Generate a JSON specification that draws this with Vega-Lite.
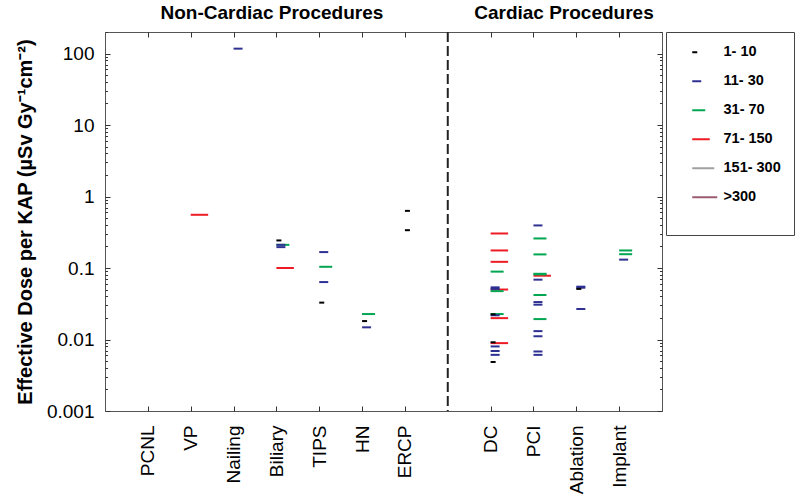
{
  "$schema": "https://vega.github.io/schema/vega-lite/v6.json",
  "width": 557,
  "height": 379,
  "autosize": {"type": "none"},
  "padding": {"left": 105, "top": 32, "right": 138, "bottom": 88},
  "config": {
    "font": "Liberation Sans",
    "view": {"stroke": "#555", "strokeWidth": 1},
    "axis": {"grid": false, "domain": false, "labelLimit": 0, "labelOverlap": false, "tickColor": "#333", "tickWidth": 1}
  },
  "data": {
    "values": [
      {"proc": "VP", "group": "71- 150", "value": 0.555},
      {"proc": "Biliary", "group": "71- 150", "value": 0.1},
      {"proc": "DC", "group": "71- 150", "value": 0.304},
      {"proc": "DC", "group": "71- 150", "value": 0.176},
      {"proc": "DC", "group": "71- 150", "value": 0.122},
      {"proc": "DC", "group": "71- 150", "value": 0.05},
      {"proc": "DC", "group": "71- 150", "value": 0.0199},
      {"proc": "DC", "group": "71- 150", "value": 0.0089},
      {"proc": "PCI", "group": "71- 150", "value": 0.078},
      {"proc": "Biliary", "group": "31- 70", "value": 0.211},
      {"proc": "TIPS", "group": "31- 70", "value": 0.104},
      {"proc": "HN", "group": "31- 70", "value": 0.0227},
      {"proc": "DC", "group": "31- 70", "value": 0.089},
      {"proc": "DC", "group": "31- 70", "value": 0.0475},
      {"proc": "DC", "group": "31- 70", "value": 0.0227},
      {"proc": "PCI", "group": "31- 70", "value": 0.259},
      {"proc": "PCI", "group": "31- 70", "value": 0.155},
      {"proc": "PCI", "group": "31- 70", "value": 0.083},
      {"proc": "PCI", "group": "31- 70", "value": 0.0815},
      {"proc": "PCI", "group": "31- 70", "value": 0.0419},
      {"proc": "PCI", "group": "31- 70", "value": 0.0193},
      {"proc": "Implant", "group": "31- 70", "value": 0.176},
      {"proc": "Implant", "group": "31- 70", "value": 0.156},
      {"proc": "Nailing", "group": "11- 30", "value": 117},
      {"proc": "Biliary", "group": "11- 30", "value": 0.211},
      {"proc": "Biliary", "group": "11- 30", "value": 0.196},
      {"proc": "TIPS", "group": "11- 30", "value": 0.167},
      {"proc": "TIPS", "group": "11- 30", "value": 0.0636},
      {"proc": "HN", "group": "11- 30", "value": 0.0148},
      {"proc": "DC", "group": "11- 30", "value": 0.0536},
      {"proc": "DC", "group": "11- 30", "value": 0.051},
      {"proc": "DC", "group": "11- 30", "value": 0.0218},
      {"proc": "DC", "group": "11- 30", "value": 0.008},
      {"proc": "DC", "group": "11- 30", "value": 0.0069},
      {"proc": "DC", "group": "11- 30", "value": 0.0061},
      {"proc": "PCI", "group": "11- 30", "value": 0.394},
      {"proc": "PCI", "group": "11- 30", "value": 0.0687},
      {"proc": "PCI", "group": "11- 30", "value": 0.0334},
      {"proc": "PCI", "group": "11- 30", "value": 0.0307},
      {"proc": "PCI", "group": "11- 30", "value": 0.0131},
      {"proc": "PCI", "group": "11- 30", "value": 0.0111},
      {"proc": "PCI", "group": "11- 30", "value": 0.0068},
      {"proc": "PCI", "group": "11- 30", "value": 0.0061},
      {"proc": "Ablation", "group": "11- 30", "value": 0.0548},
      {"proc": "Ablation", "group": "11- 30", "value": 0.053},
      {"proc": "Ablation", "group": "11- 30", "value": 0.0267},
      {"proc": "Implant", "group": "11- 30", "value": 0.131},
      {"proc": "Biliary", "group": "1- 10", "value": 0.243},
      {"proc": "TIPS", "group": "1- 10", "value": 0.0328},
      {"proc": "HN", "group": "1- 10", "value": 0.0181},
      {"proc": "ERCP", "group": "1- 10", "value": 0.63},
      {"proc": "ERCP", "group": "1- 10", "value": 0.338},
      {"proc": "DC", "group": "1- 10", "value": 0.0225},
      {"proc": "DC", "group": "1- 10", "value": 0.00914},
      {"proc": "DC", "group": "1- 10", "value": 0.00485},
      {"proc": "Ablation", "group": "1- 10", "value": 0.051}
    ]
  },
  "layer": [
    {
      "mark": {"type": "point", "filled": true, "opacity": 1, "size": 100, "strokeWidth": 0},
      "encoding": {
        "x": {
          "field": "proc", "type": "nominal",
          "scale": {"type": "point", "padding": 0, "domain": ["s0", "PCNL", "VP", "Nailing", "Biliary", "TIPS", "HN", "ERCP", "sep", "DC", "PCI", "Ablation", "Implant", "s13"]},
          "sort": null,
          "axis": {
            "orient": "bottom", "title": null,
            "values": ["PCNL", "VP", "Nailing", "Biliary", "TIPS", "HN", "ERCP", "DC", "PCI", "Ablation", "Implant"],
            "labelAngle": 270, "labelAlign": "right", "labelBaseline": "middle",
            "labelFontSize": 19, "labelColor": "black", "tickSize": -5, "labelPadding": 19
          }
        },
        "y": {
          "field": "value", "type": "quantitative",
          "scale": {"type": "log", "domain": [0.001, 200], "nice": false},
          "axis": {
            "orient": "left", "values": [0.001, 0.01, 0.1, 1, 10, 100], "format": "~g",
            "ticks": false, "labelPadding": 11, "labelFontSize": 19, "labelColor": "black",
            "title": "Effective Dose per KAP (µSv Gy⁻¹cm⁻²)", "titleFontSize": 20, "titleFontWeight": "bold", "titleColor": "black", "titlePadding": 11
          }
        },
        "color": {
          "field": "group", "type": "nominal",
          "scale": {"domain": ["1- 10", "11- 30", "31- 70", "71- 150", "151- 300", ">300"], "range": ["#000000", "#2e3192", "#00a651", "#ed1c24", "#a0a0a0", "#9c5b6e"]},
          "legend": {"title": "\u00a0", "titleOrient": "bottom", "titleFontSize": 10, "titlePadding": 8, "orient": "right", "offset": 3, "padding": 13, "strokeColor": "#444", "fillColor": "white", "labelFontSize": 14.5, "labelFontWeight": "bold", "labelColor": "black", "rowPadding": 14, "symbolSize": 100, "symbolOffset": 6, "labelOffset": 24, "symbolStrokeWidth": 0}
        },
        "shape": {
          "field": "group", "type": "nominal",
          "scale": {"domain": ["1- 10", "11- 30", "31- 70", "71- 150", "151- 300", ">300"], "range": ["M0,-0.2H1V0.2H0Z", "M0,-0.2H1.8V0.2H0Z", "M0,-0.2H2.6V0.2H0Z", "M0,-0.2H3.5V0.2H0Z", "M0,-0.2H4.4V0.2H0Z", "M0,-0.2H5V0.2H0Z"]},
          "legend": {"title": "\u00a0", "titleOrient": "bottom", "titleFontSize": 10, "titlePadding": 8, "orient": "right", "offset": 3, "padding": 13, "strokeColor": "#444", "fillColor": "white", "labelFontSize": 14.5, "labelFontWeight": "bold", "labelColor": "black", "rowPadding": 14, "symbolSize": 100, "symbolOffset": 6, "labelOffset": 24, "symbolStrokeWidth": 0}
        }
      }
    },
    {
      "data": {"values": [{"proc": "sep"}]},
      "mark": {"type": "rule", "strokeDash": [10, 4], "strokeWidth": 2, "color": "#222"},
      "encoding": {
        "x": {"field": "proc", "type": "nominal", "scale": {"type": "point", "padding": 0, "domain": ["s0", "PCNL", "VP", "Nailing", "Biliary", "TIPS", "HN", "ERCP", "sep", "DC", "PCI", "Ablation", "Implant", "s13"]}, "sort": null, "axis": null}
      }
    },
    {
      "mark": {"type": "point", "opacity": 0},
      "encoding": {
        "x": {
          "field": "proc", "type": "nominal", "sort": null,
          "scale": {"type": "point", "padding": 0, "domain": ["s0", "PCNL", "VP", "Nailing", "Biliary", "TIPS", "HN", "ERCP", "sep", "DC", "PCI", "Ablation", "Implant", "s13"]},
          "axis": {
            "orient": "top", "title": null,
            "values": ["PCNL", "VP", "Nailing", "Biliary", "TIPS", "HN", "ERCP", "DC", "PCI", "Ablation", "Implant"],
            "labelExpr": "datum.value == 'Biliary' ? 'Non-Cardiac Procedures' : (datum.value == 'PCI' ? 'Cardiac Procedures' : '')",
            "labelAngle": 0, "labelAlign": "center", "labelBaseline": "bottom",
            "labelFontSize": 19, "labelFontWeight": "bold", "labelColor": "black",
            "labelOffset": {"condition": {"test": "datum.value == 'Biliary'", "value": -5}, "value": 30},
            "tickSize": -5, "labelPadding": 15
          }
        },
        "y": {
          "field": "value", "type": "quantitative",
          "scale": {"type": "log", "domain": [0.001, 200], "nice": false},
          "axis": {"orient": "left", "title": null, "labels": false, "tickSize": -5, "values": [0.001, 0.01, 0.1, 1, 10, 100]}
        }
      }
    },
    {
      "mark": {"type": "point", "opacity": 0},
      "encoding": {
        "x": {"field": "proc", "type": "nominal", "sort": null, "scale": {"type": "point", "padding": 0, "domain": ["s0", "PCNL", "VP", "Nailing", "Biliary", "TIPS", "HN", "ERCP", "sep", "DC", "PCI", "Ablation", "Implant", "s13"]}, "axis": null},
        "y": {
          "field": "value", "type": "quantitative",
          "scale": {"type": "log", "domain": [0.001, 200], "nice": false},
          "axis": {"orient": "left", "title": null, "labels": false, "tickSize": -2.5,
            "values": [0.002, 0.003, 0.004, 0.005, 0.006, 0.007, 0.008, 0.009, 0.02, 0.03, 0.04, 0.05, 0.06, 0.07, 0.08, 0.09, 0.2, 0.3, 0.4, 0.5, 0.6, 0.7, 0.8, 0.9, 2, 3, 4, 5, 6, 7, 8, 9, 20, 30, 40, 50, 60, 70, 80, 90, 200]}
        }
      }
    },
    {
      "mark": {"type": "point", "opacity": 0},
      "encoding": {
        "x": {"field": "proc", "type": "nominal", "sort": null, "scale": {"type": "point", "padding": 0, "domain": ["s0", "PCNL", "VP", "Nailing", "Biliary", "TIPS", "HN", "ERCP", "sep", "DC", "PCI", "Ablation", "Implant", "s13"]}, "axis": null},
        "y": {
          "field": "value", "type": "quantitative",
          "scale": {"type": "log", "domain": [0.001, 200], "nice": false},
          "axis": {"orient": "right", "title": null, "labels": false, "tickSize": -5, "values": [0.001, 0.01, 0.1, 1, 10, 100]}
        }
      }
    },
    {
      "mark": {"type": "point", "opacity": 0},
      "encoding": {
        "x": {"field": "proc", "type": "nominal", "sort": null, "scale": {"type": "point", "padding": 0, "domain": ["s0", "PCNL", "VP", "Nailing", "Biliary", "TIPS", "HN", "ERCP", "sep", "DC", "PCI", "Ablation", "Implant", "s13"]}, "axis": null},
        "y": {
          "field": "value", "type": "quantitative",
          "scale": {"type": "log", "domain": [0.001, 200], "nice": false},
          "axis": {"orient": "right", "title": null, "labels": false, "tickSize": -2.5,
            "values": [0.002, 0.003, 0.004, 0.005, 0.006, 0.007, 0.008, 0.009, 0.02, 0.03, 0.04, 0.05, 0.06, 0.07, 0.08, 0.09, 0.2, 0.3, 0.4, 0.5, 0.6, 0.7, 0.8, 0.9, 2, 3, 4, 5, 6, 7, 8, 9, 20, 30, 40, 50, 60, 70, 80, 90, 200]}
        }
      }
    }
  ],
  "resolve": {"axis": {"x": "independent", "y": "independent"}}
}
